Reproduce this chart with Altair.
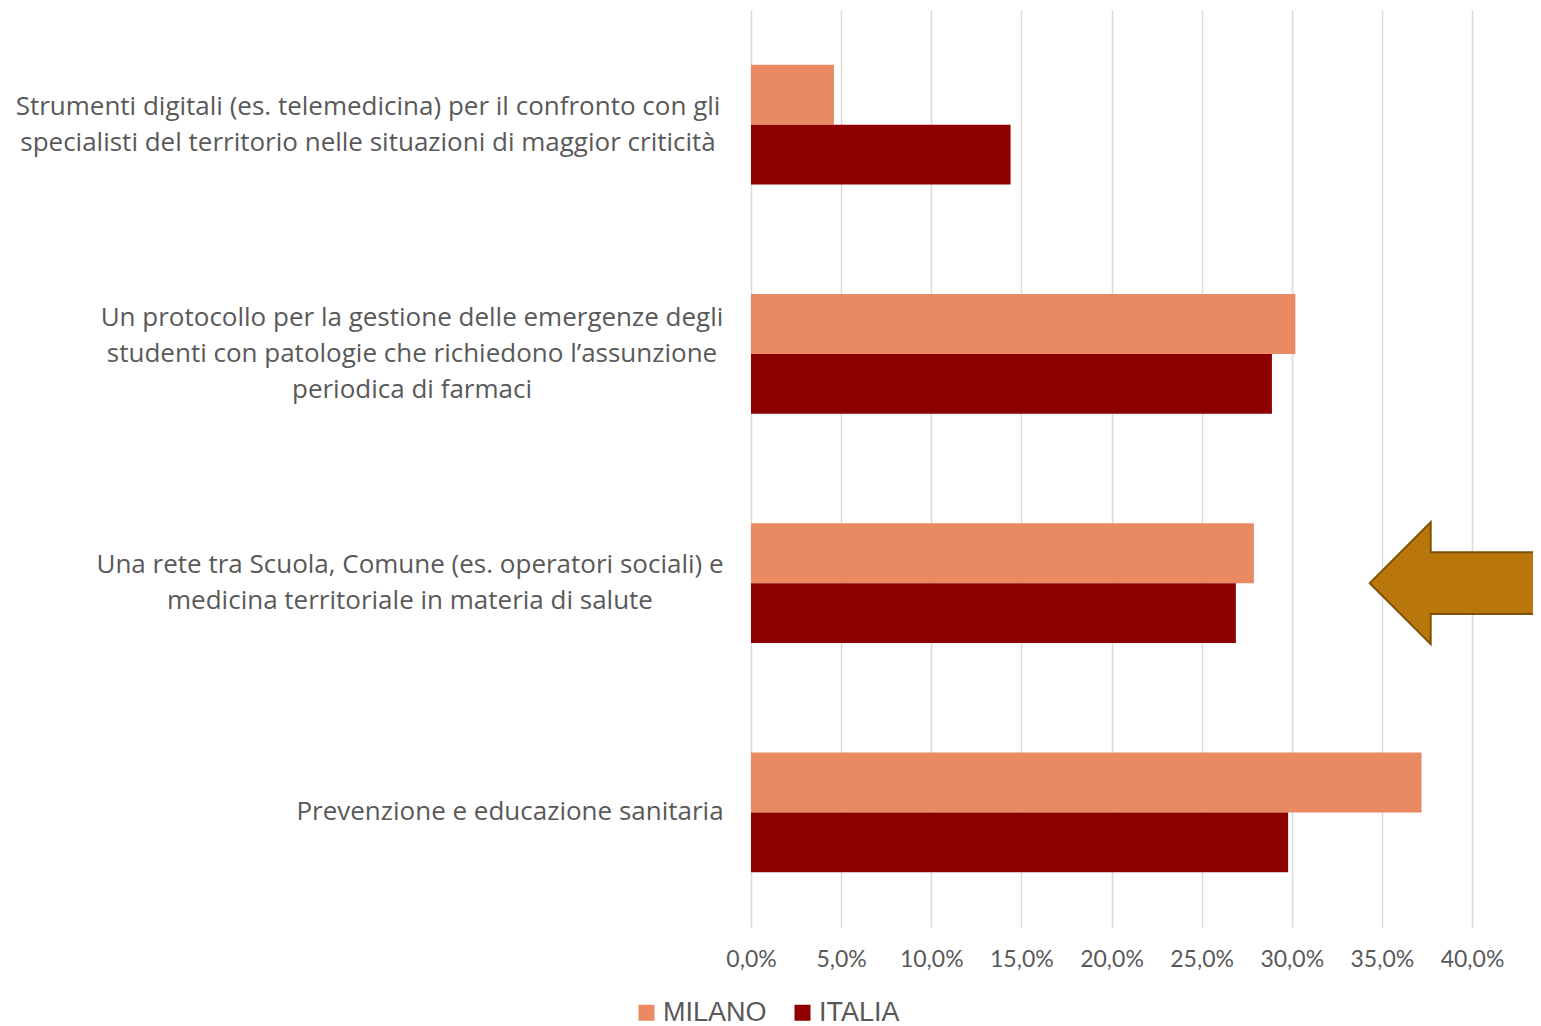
import altair as alt
import pandas as pd

# ---- data ----
cat_keys = ["digitali", "protocollo", "rete", "prevenzione"]
cat_labels = [
    "Strumenti digitali (es. telemedicina) per il confronto con gli\nspecialisti del territorio nelle situazioni di maggior criticità",
    "Un protocollo per la gestione delle emergenze degli\nstudenti con patologie che richiedono l’assunzione\nperiodica di farmaci",
    "Una rete tra Scuola, Comune (es. operatori sociali) e\nmedicina territoriale in materia di salute",
    "Prevenzione e educazione sanitaria",
]
series = ["MILANO", "ITALIA"]
milano = [0.046, 0.302, 0.279, 0.372]
italia = [0.144, 0.289, 0.269, 0.298]
tick_values = [0.0, 0.05, 0.10, 0.15, 0.20, 0.25, 0.30, 0.35, 0.40]
arrow_cat = "rete"
arrow_x = 0.3907

# ---- layout (not data) ----
W, H = 721, 917
LINE_H = 36
PAD_INNER = 0.4766
BAND = H / 4 * (1 - PAD_INNER)
label_half_width = {"digitali": 354, "protocollo": 310, "rete": 312, "prevenzione": 212}
label_gap = 29

rows = []
for k, m, i in zip(cat_keys, milano, italia):
    rows.append({"cat": k, "serie": "MILANO", "val": m})
    rows.append({"cat": k, "serie": "ITALIA", "val": i})
df = pd.DataFrame(rows)

lab = pd.DataFrame({
    "cat": cat_keys,
    "label": cat_labels,
    "lx": [-label_gap - label_half_width[k] for k in cat_keys],
    "dy": [BAND / 2 - t.count("\n") * LINE_H / 2 for t in cat_labels],
})
arrow = pd.DataFrame({"cat": [arrow_cat], "val": [arrow_x]})

yscale = alt.Scale(domain=cat_keys, paddingInner=PAD_INNER, paddingOuter=PAD_INNER / 2)

bars = alt.Chart(df).mark_bar().encode(
    x=alt.X("val:Q",
            scale=alt.Scale(domain=[0, 0.4], nice=False),
            axis=alt.Axis(values=tick_values,
                          labelExpr="replace(format(datum.value, '.1%'), '.', ',')",
                          grid=True, gridColor="#d9d9d9", gridWidth=1.5,
                          domain=False, ticks=False, title=None,
                          labelFont="Lato", labelFontSize=23, labelColor="#595959",
                          labelPadding=21, labelFlush=False, labelOverlap=False)),
    y=alt.Y("cat:N", scale=yscale, axis=None, sort=cat_keys),
    yOffset=alt.YOffset("serie:N", sort=series, scale=alt.Scale(paddingInner=0, paddingOuter=0)),
    color=alt.Color("serie:N",
                    scale=alt.Scale(domain=series, range=["#E98A62", "#8E0000"]),
                    legend=alt.Legend(title=None, orient="none", direction="horizontal",
                                      legendX=-118, legendY=989, padding=0,
                                      symbolType="square", symbolSize=256,
                                      symbolStrokeWidth=0, symbolOpacity=1,
                                      labelFont="Liberation Sans", labelFontSize=27,
                                      labelColor="#595959", labelOffset=3,
                                      columnPadding=22)),
)

labels = alt.Chart(lab).mark_text(
    align="center", baseline="middle", lineBreak="\n", lineHeight=LINE_H,
    font="Open Sans", fontSize=26, color="#595959"
).encode(
    x=alt.X("lx:Q", scale=None),
    y=alt.Y("cat:N", scale=yscale, axis=None, sort=cat_keys),
    yOffset=alt.YOffset("dy:Q", scale=None),
    text="label:N",
)

arrow_path = "M -1 0 L -0.287 -0.713 L -0.287 -0.36 L 1 -0.36 L 1 0.36 L -0.287 0.36 L -0.287 0.713 Z"
arrow_mark = alt.Chart(arrow).mark_point(
    shape=arrow_path, filled=True, fill="#B8760B", stroke="#7E5106",
    strokeWidth=2, size=171 * 171, opacity=1, fillOpacity=1
).encode(
    x=alt.X("val:Q", scale=alt.Scale(domain=[0, 0.4], nice=False)),
    y=alt.Y("cat:N", scale=yscale, axis=None, sort=cat_keys),
)

chart = alt.layer(bars, labels, arrow_mark).properties(
    width=W, height=H,
    autosize=alt.AutoSizeParams(type="none"),
    padding={"left": 743, "top": 2, "right": 61, "bottom": 99},
).configure_view(stroke=None)

chart.save("out.html", embed_options={"renderer": "svg", "actions": False})
